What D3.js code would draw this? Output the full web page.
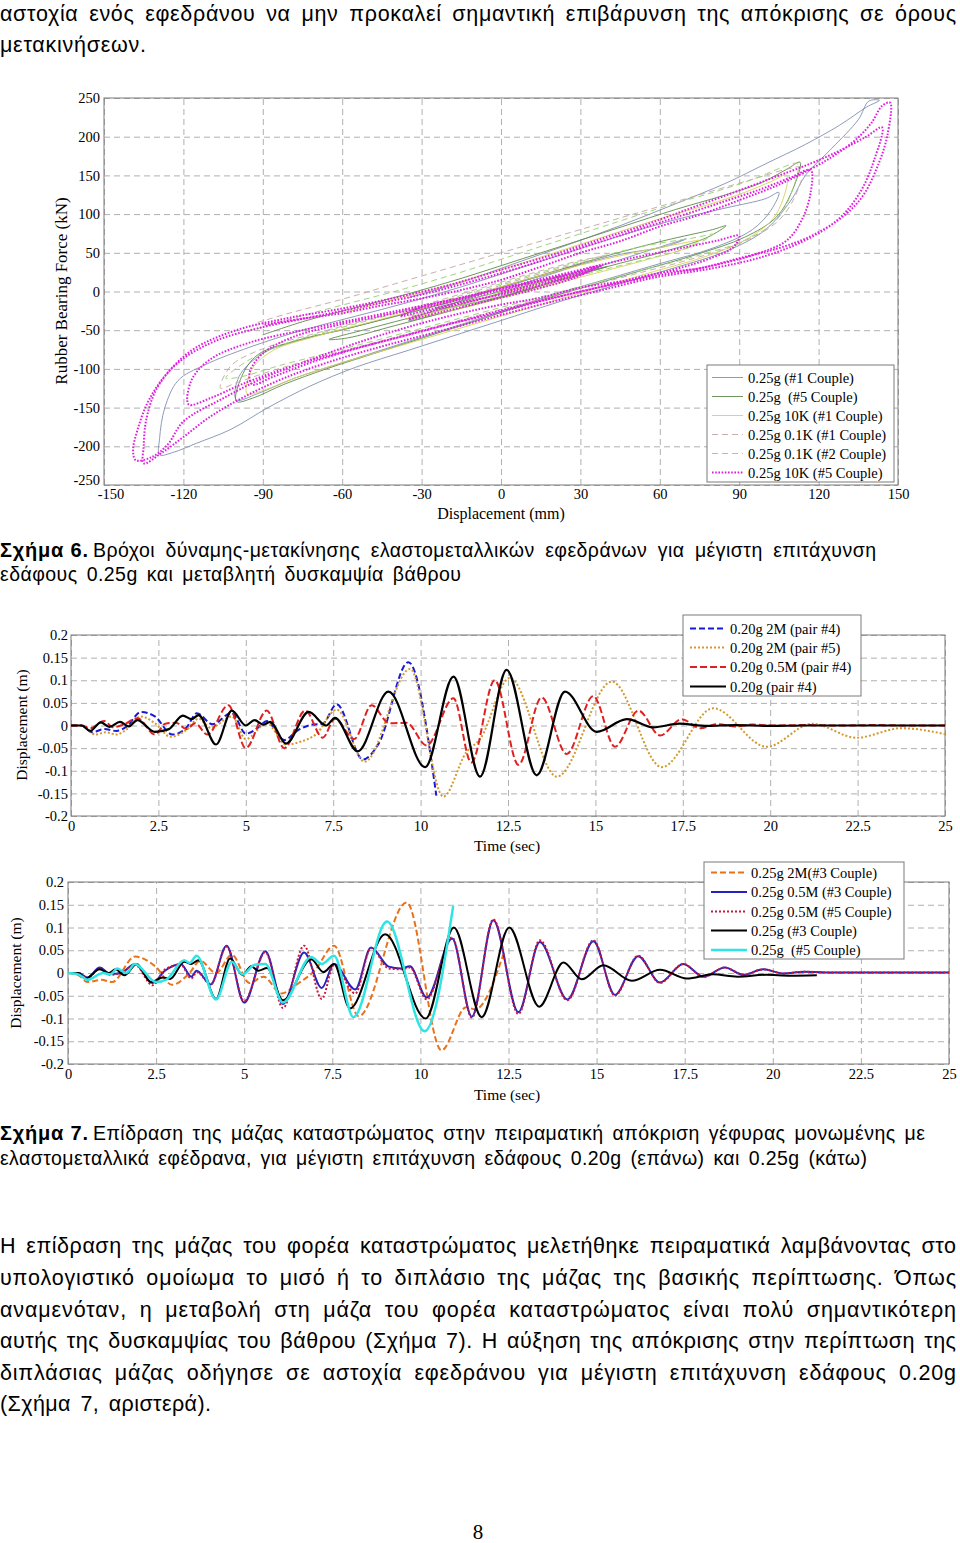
<!DOCTYPE html>
<html><head><meta charset="utf-8">
<script src="https://cdn.jsdelivr.net/npm/d3@7"></script>
<style>body{margin:0;background:#fff}svg{display:block}</style>
</head><body>
<svg id="page" width="960" height="1543"></svg>
<script>
// ---------------- DATA ----------------
// Chart 1 (hysteresis loops) : [displacement mm, force kN]
const hystTicksX = [-150,-120,-90,-60,-30,0,30,60,90,120,150];
const hystTicksY = [250,200,150,100,50,0,-50,-100,-150,-200,-250];
const hystLegend = ["0.25g (#1 Couple)","0.25g  (#5 Couple)","0.25g 10K (#1 Couple)","0.25g 0.1K (#1 Couple)","0.25g 0.1K (#2 Couple)","0.25g 10K (#5 Couple)"];

const hystCouple1 = [[0,0],[15,18],[30,35],[20,25],[0,5],[-20,-18],[-35,-38],[-25,-30],[-5,-12],[15,8],[35,30],[55,52],[70,68],[62,58],[45,48],[25,30],[5,10],[-15,-10],[-35,-28],[-55,-45],[-75,-62],[-90,-80],[-99,-110],[-100,-140],[-92,-132],[-78,-112],[-60,-92],[-40,-70],[-20,-48],[0,-26],[20,-4],[40,16],[60,36],[80,56],[95,80],[102,105],[105,128],[100,120],[85,108],[65,92],[45,72],[25,50],[5,28],[-15,6],[-35,-14],[-55,-32],[-75,-50],[-95,-72],[-112,-95],[-122,-115],[-127,-150],[-129,-190],[-129,-211],[-124,-208],[-115,-196],[-102,-178],[-88,-150],[-72,-122],[-55,-98],[-35,-76],[-15,-54],[5,-32],[25,-10],[45,10],[65,30],[85,52],[100,80],[110,120],[115,150],[125,185],[135,222],[139,246],[143,247],[138,238],[128,215],[115,190],[100,165],[85,140],[65,112],[45,85],[25,60],[5,36],[-15,12],[-35,-8]];
const hystCouple5 = [[0,0],[-12,-10],[-25,-22],[-15,-18],[5,-2],[25,18],[40,32],[30,25],[10,8],[-10,-12],[-30,-30],[-50,-48],[-65,-62],[-58,-60],[-40,-44],[-20,-26],[0,-8],[20,12],[40,32],[60,50],[78,70],[85,85],[80,80],[62,66],[42,48],[22,28],[2,8],[-18,-12],[-38,-30],[-58,-48],[-78,-64],[-92,-82],[-98,-110],[-100,-142],[-94,-138],[-82,-120],[-66,-100],[-46,-78],[-26,-56],[-6,-34],[14,-12],[34,8],[54,28],[74,48],[92,70],[104,96],[110,130],[113,167],[108,158],[98,140],[84,124],[66,106],[46,84],[26,62],[6,40],[-14,18],[-34,-2],[-54,-20],[-74,-38],[-90,-56]];
const hyst10K1 = [[0,0],[15,8],[28,20],[18,14],[-2,-4],[-22,-24],[-36,-36],[-26,-30],[-6,-14],[14,4],[34,22],[54,40],[70,56],[75,66],[68,62],[50,50],[30,34],[10,16],[-10,-4],[-30,-22],[-50,-40],[-70,-58],[-86,-76],[-94,-100],[-96,-132],[-90,-128],[-78,-112],[-62,-94],[-42,-74],[-22,-54],[-2,-34],[18,-14],[38,6],[58,26],[78,46],[94,70],[104,100],[108,150],[102,142],[92,128],[78,112],[60,94],[40,72],[20,50],[0,28],[-20,8],[-40,-10],[-60,-28]];
const hyst01K1 = [[-20,-15],[0,8],[20,28],[40,46],[30,40],[10,22],[-10,2],[-30,-18],[-50,-36],[-70,-54],[-90,-74],[-102,-96],[-106,-125],[-100,-118],[-88,-104],[-70,-86],[-50,-68],[-30,-50],[-10,-32],[10,-14],[30,4],[50,22],[70,40],[90,62],[105,92],[112,130],[114,160],[108,158],[96,146],[80,130],[60,110],[40,90],[20,70],[0,50],[-20,30],[-40,10],[-60,-10],[-80,-28],[-92,-40]];
const hyst01K2 = [[0,0],[20,15],[35,28],[25,22],[5,5],[-15,-14],[-35,-32],[-25,-26],[-5,-10],[15,8],[35,25],[55,42],[72,58],[80,74],[74,70],[56,60],[36,44],[16,26],[-4,6],[-24,-14],[-44,-32],[-64,-50],[-82,-68],[-96,-90],[-104,-112],[-98,-110],[-84,-96],[-66,-80],[-46,-62],[-26,-44],[-6,-26],[14,-8],[34,10],[54,28],[74,46],[92,66],[104,92],[110,130],[112,165],[106,160],[96,146],[82,130],[64,112],[44,90],[24,68],[4,46],[-16,24],[-36,4],[-56,-14],[-76,-32],[-96,-52]];
const hyst10K5 = [[0,0],[12,8],[25,18],[36,30],[38,34],[30,22],[15,8],[0,-4],[-15,-14],[-28,-24],[-38,-32],[-30,-20],[-15,-8],[0,4],[15,14],[30,26],[37,33],[28,18],[12,2],[-5,-12],[-22,-26],[-35,-36],[-25,-24],[-8,-10],[10,6],[25,20],[35,32],[20,18],[0,2],[-20,-14],[-40,-28],[-60,-42],[-78,-58],[-90,-80],[-95,-105],[-94,-120],[-86,-110],[-72,-92],[-55,-74],[-35,-56],[-15,-38],[5,-20],[25,-4],[45,12],[65,28],[80,44],[88,58],[90,72],[82,66],[65,54],[45,40],[25,24],[5,8],[-15,-8],[-35,-22],[-55,-36],[-75,-50],[-95,-66],[-110,-88],[-117,-115],[-118,-146],[-110,-138],[-98,-120],[-82,-100],[-62,-80],[-42,-62],[-22,-44],[-2,-28],[18,-10],[38,6],[58,20],[78,32],[96,48],[108,66],[114,95],[117,128],[117,157],[110,148],[98,132],[84,116],[68,98],[50,78],[30,56],[10,34],[-10,14],[-30,-4],[-50,-18],[-70,-32],[-90,-46],[-108,-64],[-122,-92],[-130,-125],[-134,-165],[-135,-200],[-135,-222],[-128,-208],[-120,-188],[-110,-162],[-97,-136],[-82,-112],[-64,-90],[-44,-70],[-24,-52],[-4,-34],[16,-16],[36,0],[58,18],[80,30],[100,46],[116,68],[128,95],[136,130],[141,170],[144,212],[138,200],[128,182],[116,164],[102,146],[88,128],[72,108],[56,88],[38,68],[20,48],[0,28],[-20,8],[-40,-8],[-60,-22],[-80,-34],[-100,-50],[-116,-74],[-126,-105],[-133,-140],[-137,-175],[-139,-205],[-138,-218],[-132,-214],[-126,-198],[-120,-168],[-105,-138],[-90,-112],[-75,-92],[-60,-73],[-45,-56],[-30,-41],[-15,-28],[0,-17],[15,-8],[30,5],[45,13],[60,24],[75,30],[90,43],[105,56],[118,73],[130,99],[137,125],[143,168],[146,202],[147,244],[144,240],[140,218],[134,196],[126,176],[118,160],[105,138],[90,118],[75,99],[60,84],[45,65],[30,50],[15,32],[0,15],[-15,2],[-30,-9],[-45,-18],[-60,-28],[-75,-35],[-90,-43]];

// Charts 2 & 3 (time histories): [time s, displacement m]
const timeTicks = [0,2.5,5,7.5,10,12.5,15,17.5,20,22.5,25];
const timeTickLabels = ["0","2.5","5","7.5","10","12.5","15","17.5","20","22.5","25"];
const dispTicks = [0.2,0.15,0.1,0.05,0,-0.05,-0.1,-0.15,-0.2];
const dispTickLabels = ["0.2","0.15","0.1","0.05","0","-0.05","-0.1","-0.15","-0.2"];

const legend020 = ["0.20g 2M (pair #4)","0.20g 2M (pair #5)","0.20g 0.5M (pair #4)","0.20g (pair #4)"];
const d020_2M_p4 = [[0,0],[0.3,0],[0.6,-0.015],[0.95,-0.008],[1.3,-0.012],[1.6,-0.002],[2.0,0.03],[2.4,0.02],[2.9,-0.02],[3.3,-0.005],[3.6,0.027],[4.05,0.003],[4.6,0.028],[5.0,-0.018],[5.35,-0.005],[5.6,0.01],[6.1,-0.032],[6.5,-0.01],[6.9,0.002],[7.2,0.004],[7.6,0.047],[8.35,-0.075],[8.8,-0.04],[9.65,0.14],[10.45,-0.155]];
const d020_2M_p5 = [[0,0],[0.3,0],[0.7,-0.02],[1.0,-0.015],[1.3,-0.02],[1.6,-0.008],[2.0,0.02],[2.4,0.005],[2.85,-0.025],[3.3,-0.01],[3.65,0.015],[4.0,-0.005],[4.6,0.02],[5.0,-0.03],[5.6,0.005],[6.15,-0.042],[6.6,-0.035],[7.0,-0.02],[7.6,0.035],[8.4,-0.08],[9.7,0.125],[10.65,-0.157],[11.3,-0.06],[11.7,-0.03],[12.55,0.105],[13.9,-0.113],[15.47,0.097],[16.9,-0.092],[18.37,0.038],[19.9,-0.047],[21.2,0.004],[22.47,-0.027],[23.75,-0.006],[25,-0.019]];
const d020_05M_p4 = [[0,0],[0.3,0],[0.55,-0.006],[0.95,0.01],[1.2,-0.004],[1.5,0.002],[1.9,0.016],[2.4,-0.02],[2.7,0.004],[3.0,0.006],[3.3,-0.008],[3.55,0.005],[3.9,-0.02],[4.5,0.045],[5.0,-0.05],[5.6,0.033],[6.1,-0.05],[6.7,0.033],[7.2,-0.027],[7.55,0.015],[8.1,-0.03],[8.6,0.045],[9.1,0.005],[9.6,0.006],[10.17,-0.044],[10.94,0.06],[11.45,-0.082],[12.12,0.1],[12.8,-0.087],[13.46,0.062],[14.18,-0.063],[14.94,0.065],[15.56,-0.047],[16.23,0.033],[16.85,-0.022],[17.47,0.014],[18.0,-0.006],[18.5,0.003],[19.0,-0.002],[19.5,0.002],[20,0],[21,0.001],[22,0],[23,0.001],[24,0],[25,0]];
const d020_p4 = [[0,0],[0.3,0],[0.55,-0.012],[0.85,0.007],[1.1,-0.003],[1.4,0.008],[1.65,-0.002],[1.9,0.012],[2.4,-0.014],[2.8,-0.008],[3.2,0.022],[3.45,0.014],[3.65,0.023],[4.15,-0.042],[4.6,0.033],[5.0,0.0],[5.25,0.012],[5.5,0.002],[5.7,0.008],[6.15,-0.04],[6.8,0.03],[7.3,0.0],[7.55,0.017],[8.2,-0.057],[9.08,0.075],[10.13,-0.092],[10.94,0.108],[11.7,-0.113],[12.46,0.123],[13.32,-0.11],[14.13,0.075],[15.04,-0.014],[15.9,0.014],[16.66,-0.004],[17.4,0.004],[18.2,-0.001],[19,0.001],[20,-0.001],[21,0],[22,0],[23,0],[24,0],[25,0]];

const legend025 = ["0.25g 2M(#3 Couple)","0.25g 0.5M (#3 Couple)","0.25g 0.5M (#5 Couple)","0.25g (#3 Couple)","0.25g  (#5 Couple)"];
const d025_2M_c3 = [[0,0],[0.3,-0.005],[0.55,-0.02],[0.95,-0.015],[1.25,-0.02],[1.9,0.036],[2.5,0.013],[2.95,-0.026],[3.45,0.0],[3.75,0.027],[4.2,0.0],[4.65,0.04],[5.15,-0.022],[5.55,-0.008],[6.05,-0.045],[6.55,-0.022],[7.0,0.005],[7.55,0.06],[8.25,-0.095],[9.61,0.155],[10.6,-0.17],[11.3,-0.075],[11.55,-0.08],[12.35,0.04]];
const d025_05M_c3 = [[0,0],[0.3,0],[0.55,-0.01],[0.9,0.012],[1.2,-0.002],[1.5,0.0],[1.9,0.02],[2.4,-0.022],[2.75,0.005],[3.2,0.02],[3.5,-0.008],[3.65,0.005],[4.05,-0.025],[4.5,0.06],[5.0,-0.065],[5.6,0.048],[6.1,-0.068],[6.7,0.045],[7.2,-0.033],[7.55,0.02],[8.15,-0.036],[8.6,0.056],[9.1,0.014],[9.45,0.01],[9.7,0.015],[10.18,-0.054],[10.9,0.076],[11.46,-0.096],[12.07,0.116],[12.78,-0.086],[13.39,0.068],[14.17,-0.058],[14.91,0.07],[15.52,-0.048],[16.18,0.037],[16.8,-0.021],[17.46,0.02],[18.03,-0.008],[18.64,0.012],[19.16,-0.004],[19.73,0.008],[20.3,-0.001],[20.9,0.003],[21.5,0.001],[22.5,0.001],[23.5,0.001],[25,0.001]];
const d025_05M_c5 = [[0,0],[0.3,0],[0.55,-0.012],[0.9,0.01],[1.2,-0.004],[1.5,0.0],[1.9,0.018],[2.4,-0.027],[2.75,0.008],[3.2,0.018],[3.5,-0.012],[3.65,0.002],[4.05,-0.025],[4.5,0.058],[5.0,-0.062],[5.6,0.046],[6.1,-0.077],[6.7,0.06],[7.2,-0.057],[7.55,0.018],[8.15,-0.045],[8.6,0.055],[9.1,0.01],[9.45,0.008],[9.7,0.012],[10.18,-0.058],[10.9,0.078],[11.46,-0.098],[12.07,0.118],[12.78,-0.09],[13.39,0.072],[14.17,-0.06],[14.91,0.072],[15.52,-0.05],[16.18,0.038],[16.8,-0.022],[17.46,0.02],[18.03,-0.009],[18.64,0.012],[19.16,-0.004],[19.73,0.008],[20.3,-0.001],[20.9,0.003],[21.5,0.001],[22.5,0.001],[23.5,0.001],[25,0.001]];
const d025_c3 = [[0,0],[0.3,0],[0.5,-0.012],[0.9,0.008],[1.15,0.0],[1.35,0.008],[1.6,-0.005],[1.95,0.02],[2.35,-0.02],[2.7,-0.01],[2.9,-0.013],[3.3,0.025],[3.5,0.02],[3.7,0.028],[4.2,-0.057],[4.6,0.032],[4.95,-0.004],[5.2,0.015],[5.4,0.005],[5.65,0.011],[6.1,-0.06],[6.9,0.03],[7.25,0.002],[7.55,0.02],[8.0,-0.078],[9.0,0.085],[10.15,-0.1],[10.95,0.1],[11.74,-0.097],[12.52,0.1],[13.37,-0.074],[14.06,0.023],[14.58,-0.014],[15.19,0.017],[16.0,-0.017],[16.8,0.007],[17.56,-0.012],[18.3,-0.003],[19.0,-0.008],[19.8,-0.004],[20.5,-0.006],[21.25,-0.005]];
const d025_c5 = [[0,0],[0.3,-0.003],[0.55,-0.015],[1.0,0.0],[1.2,-0.003],[1.4,0.01],[1.65,0.0],[1.9,0.02],[2.5,-0.02],[2.8,-0.014],[3.3,0.028],[3.45,0.022],[3.65,0.038],[4.2,-0.058],[4.65,0.025],[4.95,-0.003],[5.3,0.018],[5.6,0.02],[6.1,-0.065],[6.9,0.035],[7.2,0.02],[7.55,0.038],[8.1,-0.097],[9.05,0.113],[10.12,-0.128],[10.93,0.147]];

// Document text
const topLines = ["αστοχία ενός εφεδράνου να μην προκαλεί σημαντική επιβάρυνση της απόκρισης σε όρους","μετακινήσεων."];
const cap6 = ["Σχήμα 6.","Βρόχοι δύναμης-μετακίνησης ελαστομεταλλικών εφεδράνων για μέγιστη επιτάχυνση","εδάφους 0.25g και μεταβλητή δυσκαμψία βάθρου"];
const cap7 = ["Σχήμα 7.","Επίδραση της μάζας καταστρώματος στην πειραματική απόκριση γέφυρας μονωμένης με","ελαστομεταλλικά εφέδρανα, για μέγιστη επιτάχυνση εδάφους 0.20g (επάνω) και 0.25g (κάτω)"];
const paraLines = ["Η επίδραση της μάζας του φορέα καταστρώματος μελετήθηκε πειραματικά λαμβάνοντας στο","υπολογιστικό ομοίωμα το μισό ή το διπλάσιο της μάζας της βασικής περίπτωσης. Όπως","αναμενόταν, η μεταβολή στη μάζα του φορέα καταστρώματος είναι πολύ σημαντικότερη","αυτής της δυσκαμψίας του βάθρου (Σχήμα 7). Η αύξηση της απόκρισης στην περίπτωση της","διπλάσιας μάζας οδήγησε σε αστοχία εφεδράνου για μέγιστη επιτάχυνση εδάφους 0.20g","(Σχήμα 7, αριστερά)."];

// ---------------- DRAW ----------------
const svg = d3.select("#page");
const SANS = "'Liberation Sans', Arial, sans-serif";
const SERIF = "'Liberation Serif', 'Times New Roman', serif";

function txt(x, y, s, o = {}) {
  const t = svg.append("text").attr("x", x).attr("y", y).text(s)
    .attr("font-family", o.family || SANS).attr("font-size", o.size || 21)
    .attr("font-weight", o.weight || "normal").attr("fill", "#000")
    .attr("text-anchor", o.anchor || "start").style("white-space", "pre");
  if (o.len) {
    // justify: give part of the extra room to word gaps, the rest to letter spacing
    const nat = t.node().getComputedTextLength();
    const gaps = (s.match(/ /g) || []).length;
    if (!o.noWS && gaps > 0 && o.len > nat) t.style("word-spacing", (0.45 * (o.len - nat) / gaps).toFixed(2) + "px");
    t.attr("textLength", o.len).attr("lengthAdjust", "spacing");
  }
  if (o.rotate) t.attr("transform", `rotate(-90,${x},${y})`);
  if (o.dy) t.attr("dy", o.dy);
  return t;
}

// Top text
txt(0, 21, topLines[0], {size: 21.5, len: 956});
txt(0, 52, topLines[1], {size: 21.5, len: 146});
// Caption 6
txt(0, 557, cap6[0], {size: 20, weight: "bold", len: 88, noWS: true});
txt(93, 557, cap6[1], {size: 19.5, len: 783});
txt(0, 581, cap6[2], {size: 19.5, len: 461});
// Caption 7
txt(0, 1140, cap7[0], {size: 20, weight: "bold", len: 88, noWS: true});
txt(93, 1140, cap7[1], {size: 19.5, len: 832});
txt(0, 1165, cap7[2], {size: 19.5, len: 867});
// Paragraph
const paraY = [1253, 1285, 1317, 1348, 1380, 1411];
paraLines.forEach((l, i) => txt(0, paraY[i], l, {size: 21.5, len: i < 5 ? 956 : 211}));
txt(478, 1539, "8", {size: 21, family: SERIF, anchor: "middle"});

const gridStyle = sel => sel.attr("stroke", "#b0b0b0").attr("stroke-width", 1).attr("stroke-dasharray", "6,4");

function frame(x, y, xTicks, xLabels, yTicks, yLabels, fs, xPad, yPad) {
  const [x0, x1] = x.range(), [y0, y1] = y.range(); // y0 bottom
  const gx = svg.append("g").attr("transform", `translate(0,${y0})`)
    .call(d3.axisBottom(x).tickValues(xTicks).tickSize(-(y0 - y1)).tickPadding(xPad)
      .tickFormat((d, i) => xLabels[i]));
  const gy = svg.append("g").attr("transform", `translate(${x0},0)`)
    .call(d3.axisLeft(y).tickValues(yTicks).tickSize(-(x1 - x0)).tickPadding(yPad)
      .tickFormat((d, i) => yLabels[i]));
  [gx, gy].forEach(g => {
    g.select(".domain").remove();
    g.selectAll(".tick line").call(gridStyle);
    g.selectAll(".tick text").attr("font-family", SERIF).attr("font-size", fs).attr("fill", "#000");
  });
  svg.append("rect").attr("x", x0).attr("y", y1).attr("width", x1 - x0).attr("height", y0 - y1)
    .attr("fill", "none").attr("stroke", "#7a7a7a").attr("stroke-width", 1);
  return {gx, gy};
}

function clip(id, x, y) {
  const [x0, x1] = x.range(), [y0, y1] = y.range();
  svg.append("clipPath").attr("id", id).append("rect")
    .attr("x", x0).attr("y", y1).attr("width", x1 - x0).attr("height", y0 - y1);
}

function legend(box, items, lx0, lx1, tx, ys, fs) {
  svg.append("rect").attr("x", box[0]).attr("y", box[1]).attr("width", box[2] - box[0]).attr("height", box[3] - box[1])
    .attr("fill", "#fff").attr("stroke", "#7a7a7a").attr("stroke-width", 1);
  items.forEach((it, i) => {
    svg.append("line").attr("x1", lx0).attr("x2", lx1).attr("y1", ys[i]).attr("y2", ys[i])
      .attr("stroke", it.color).attr("stroke-width", it.width).attr("stroke-dasharray", it.dash || null);
    txt(tx, ys[i], it.label, {size: fs, family: SERIF, dy: "0.35em"});
  });
}

// ---- Chart 1 ----
const x1 = d3.scaleLinear([-150, 150], [104, 898]);
const y1 = d3.scaleLinear([-250, 250], [485, 98]);
const f1 = frame(x1, y1, hystTicksX, hystTicksX.map(String), hystTicksY, hystTicksY.map(String), 14.5, 4, 4);
f1.gy.selectAll(".tick text").filter(d => d === -250).attr("dy", "-0.05em");
f1.gx.selectAll(".tick text").filter(d => d === -150).attr("dx", "0.45em");
clip("c1", x1, y1);
const hystSeries = [
  {data: hystCouple1, color: "#8090b0", width: 0.9},
  {data: hystCouple5, color: "#5f8a4a", width: 0.9},
  {data: hyst10K1, color: "#d6d25a", width: 0.9},
  {data: hyst01K1, color: "#c4a4a4", width: 0.9, dash: "6,4"},
  {data: hyst01K2, color: "#9ed47e", width: 1, dash: "6,4"},
  {data: hyst10K5, color: "#e01ee0", width: 2, dash: "1.6,1.6"}
];
const hLine = d3.line().x(d => x1(d[0])).y(d => y1(d[1])).curve(d3.curveCatmullRom.alpha(0.5));
const g1 = svg.append("g").attr("clip-path", "url(#c1)");
hystSeries.forEach(s => g1.append("path").attr("d", hLine(s.data)).attr("fill", "none")
  .attr("stroke", s.color).attr("stroke-width", s.width).attr("stroke-dasharray", s.dash || null));
legend([707, 365, 894, 482], hystSeries.map((s, i) => ({...s, label: hystLegend[i]})),
  712, 743, 748, [377.5, 396.5, 415.5, 434.5, 453.5, 472.5], 14.5);
txt(61, 291, "Rubber Bearing Force (kN)", {size: 17, family: SERIF, anchor: "middle", rotate: true, dy: "0.35em"});
txt(501, 513, "Displacement (mm)", {size: 16, family: SERIF, anchor: "middle", dy: "0.35em"});

// ---- Chart 2 ----
const x2 = d3.scaleLinear([0, 25], [71, 945]);
const y2 = d3.scaleLinear([-0.2, 0.2], [816, 635]);
frame(x2, y2, timeTicks, timeTickLabels, dispTicks, dispTickLabels, 14.5, 5, 3);
clip("c2", x2, y2);
const s2 = [
  {data: d020_2M_p4, color: "#1818d8", width: 2, dash: "6,3"},
  {data: d020_2M_p5, color: "#d39a2c", width: 2, dash: "2,2"},
  {data: d020_05M_p4, color: "#e02020", width: 2, dash: "7,3"},
  {data: d020_p4, color: "#000", width: 2.2}
];
const l2 = d3.line().x(d => x2(d[0])).y(d => y2(d[1])).curve(d3.curveMonotoneX);
const g2 = svg.append("g").attr("clip-path", "url(#c2)");
s2.forEach(s => g2.append("path").attr("d", l2(s.data)).attr("fill", "none")
  .attr("stroke", s.color).attr("stroke-width", s.width).attr("stroke-dasharray", s.dash || null));
legend([683, 615, 861, 696], s2.map((s, i) => ({...s, label: legend020[i]})),
  690, 726, 730, [628.5, 647.5, 667, 686.5], 14.5);
txt(22, 725, "Displacement (m)", {size: 15.5, family: SERIF, anchor: "middle", rotate: true, dy: "0.35em"});
txt(507, 846, "Time (sec)", {size: 15.5, family: SERIF, anchor: "middle", dy: "0.35em"});

// ---- Chart 3 ----
const x3 = d3.scaleLinear([0, 25], [68, 949]);
const y3 = d3.scaleLinear([-0.2, 0.2], [1064, 882]);
frame(x3, y3, timeTicks, timeTickLabels, dispTicks, dispTickLabels, 14.5, 5, 4);
clip("c3", x3, y3);
const s3 = [
  {data: d025_2M_c3, color: "#e8721c", width: 2, dash: "6,3"},
  {data: d025_05M_c3, color: "#2323c0", width: 2},
  {data: d025_05M_c5, color: "#d0153a", width: 2, dash: "2,2"},
  {data: d025_c3, color: "#000", width: 2},
  {data: d025_c5, color: "#2ee4e4", width: 2.5}
];
const l3 = d3.line().x(d => x3(d[0])).y(d => y3(d[1])).curve(d3.curveMonotoneX);
const g3 = svg.append("g").attr("clip-path", "url(#c3)");
s3.forEach(s => g3.append("path").attr("d", l3(s.data)).attr("fill", "none")
  .attr("stroke", s.color).attr("stroke-width", s.width).attr("stroke-dasharray", s.dash || null));
legend([704, 862, 904, 959], s3.map((s, i) => ({...s, label: legend025[i]})),
  711, 747, 751, [872.5, 892, 911.5, 930.5, 950], 14.5);
txt(16, 973, "Displacement (m)", {size: 15.5, family: SERIF, anchor: "middle", rotate: true, dy: "0.35em"});
txt(507, 1095, "Time (sec)", {size: 15.5, family: SERIF, anchor: "middle", dy: "0.35em"});
</script>
</body></html>
